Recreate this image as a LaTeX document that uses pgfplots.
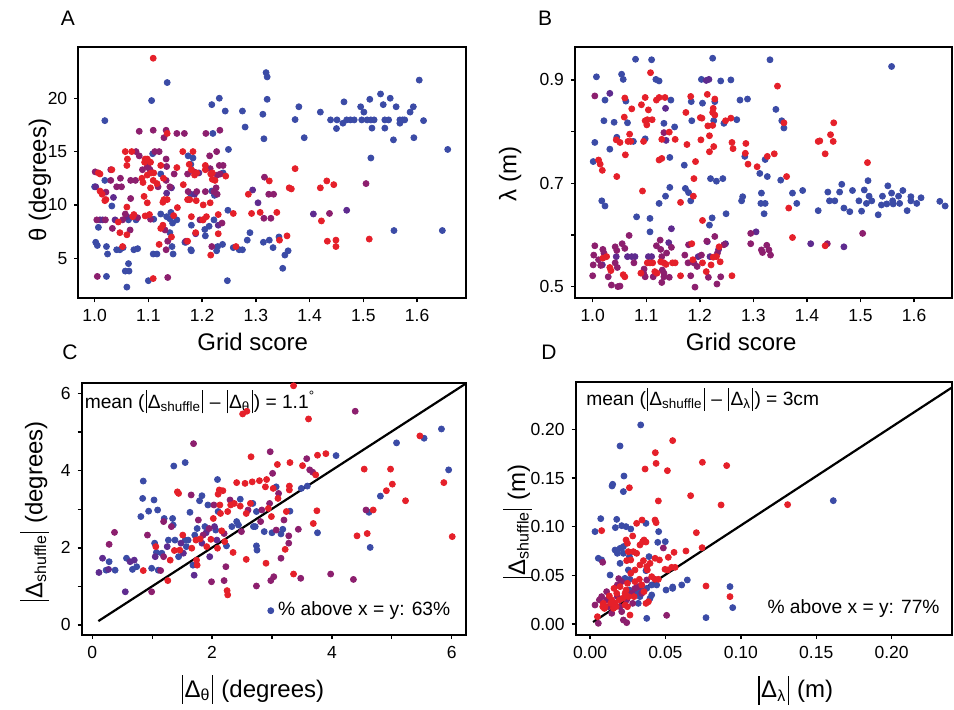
\documentclass[border=0pt]{standalone}
\usepackage{pgfplots}
\pgfplotsset{compat=1.18}
\usepackage{fontspec}
\setmainfont{Liberation Sans}
\definecolor{cB}{HTML}{3B4BA6}
\definecolor{cV}{HTML}{5E2B8F}
\definecolor{cP}{HTML}{8C1F6E}
\definecolor{cR}{HTML}{E5202A}
\newcommand{\vb}{\kern0.06em\rule[-0.28em]{0.055em}{1.2em}\kern0.06em}
\pgfplotsset{
  panel/.style={scale only axis, axis line style={line width=1pt}, tick style={black, line width=0.7pt},
    tick align=outside, xtick pos=bottom, ytick pos=left, major tick length=2pt, minor tick length=2pt,
    tick label style={font=\fontsize{8.75}{10}\selectfont},
    label style={font=\fontsize{12}{14}\selectfont}},
  pts/.style={only marks, mark=*, mark size=1.5pt, mark options={draw=none}}
}
\begin{document}
\begin{tikzpicture}
\useasboundingbox (0,0) rectangle (477pt,355pt);
% ---------------- A ----------------
\begin{axis}[panel, at={(39.15pt,205.85pt)}, anchor=south west, width=193.85pt, height=125.85pt,
  xmin=0.9696, xmax=1.691, ymin=1.25, ymax=24.84,
  xtick={1.0,1.1,1.2,1.3,1.4,1.5,1.6}, xticklabels={1.0,1.1,1.2,1.3,1.4,1.5,1.6},
  ytick={5,10,15,20}, yticklabels={5,10,15,20},
  xlabel={Grid score}, xlabel style={at={(axis description cs:0.45,-0.209)}, anchor=base},
  ylabel={θ (degrees)}, ylabel style={at={(axis description cs:-0.099,0.47)}, anchor=center, rotate=0}]
\addplot[pts, cB] coordinates {(1.135,21.47) (1.106,19.78) (1.019,17.9) (1.22,16.7) (1.218,19.4) (1.232,20.0) (1.243,18.8) (1.275,18.8) (1.28,17.3) (1.249,15.2) (1.313,18.5) (1.315,16.2) (1.319,22.4) (1.321,22.0) (1.321,19.9) (1.373,18.0) (1.38,19.2) (1.39,16.3) (1.42,18.7)
(1.439,17.97) (1.451,17.97) (1.469,17.97) (1.476,17.97) (1.483,17.97) (1.497,17.97) (1.507,17.97) (1.514,17.97) (1.52,17.97) (1.54,17.97) (1.547,17.97) (1.568,17.97) (1.573,17.97) (1.577,17.97)
(1.45,17.16) (1.462,17.66) (1.464,19.66) (1.495,19.2) (1.501,18.7) (1.512,19.9) (1.516,17.2) (1.532,20.4) (1.537,19.4) (1.54,17.2) (1.55,20.0) (1.561,19.2) (1.556,16.1) (1.568,17.66) (1.587,18.7) (1.593,19.2) (1.594,16.3) (1.604,21.7) (1.612,17.9) (1.657,15.2) (1.514,14.4) (1.557,7.6) (1.647,7.6)
(1.289,7.4) (1.284,6.7) (1.314,6.5) (1.325,6.7) (1.332,6.0) (1.354,5.3) (1.36,5.7) (1.35,4.06) (1.343,7.0)
(1.247,2.9) (1.238,6.3) (1.227,5.7) (1.229,6.1) (1.248,9.5) (1.258,6.0) (1.269,5.8) (1.275,5.8) (1.222,8.6) (1.213,8.0) (1.205,7.7) (1.206,7.1) (1.18,8.1) (1.179,5.8) (1.168,6.5) (1.239,13.0) (1.183,14.4) (1.174,14.6) (1.179,13.8) (1.179,11.0) (1.123,12.9) (1.108,14.8) (1.11,8.66) (1.123,9.15) (1.134,8.9) (1.14,8.7) (1.142,9.3) (1.153,8.6) (1.145,8.3) (1.14,7.4) (1.144,6.1) (1.146,5.4) (1.109,5.4) (1.116,5.4) (1.1,2.9) (1.17,6.5) (1.18,5.7) (1.218,11.3) (1.223,10.9)
(1.0,11.7) (1.019,12.3) (1.032,9.9) (1.007,7.9) (1.063,8.6) (1.041,5.8) (1.047,5.8) (1.053,6.0) (1.022,6.1) (1.002,6.5) (1.005,6.2) (1.024,5.4) (1.022,3.3) (1.063,4.5) (1.057,3.8) (1.064,3.8) (1.06,2.3) (1.073,5.8) (1.08,5.9) (1.077,8.6)};
\addplot[pts, cV] coordinates {(1.304,10.2) (1.294,11.4) (1.469,9.5) (1.407,9.15) (1.194,13.0) (1.186,11.0) (1.143,11.6) (1.134,11.1) (1.035,10.7) (1.002,11.7) (1.01,8.6) (1.015,8.6) (1.038,8.6) (1.06,8.9) (1.23,8.1) (1.188,7.3)};
\addplot[pts, cP] coordinates {(1.083,16.9) (1.109,17.0) (1.133,17.0) (1.129,16.3) (1.153,16.7) (1.167,16.7) (1.207,16.7) (1.233,17.0) (1.316,12.6) (1.324,11.0) (1.333,11.0) (1.315,8.75) (1.328,8.75) (1.437,9.2) (1.505,12.0) (1.218,6.1) (1.237,8.3) (1.196,8.6) (1.17,6.6) (1.206,11.25) (1.222,11.25) (1.228,11.0) (1.226,11.6) (1.228,12.8) (1.234,12.9) (1.232,13.7) (1.239,13.7) (1.227,15.0) (1.214,14.6) (1.215,13.4) (1.185,13.1) (1.173,12.9) (1.174,11.25) (1.19,11.25) (1.148,12.9) (1.14,11.7) (1.133,12.3) (1.134,13.6) (1.133,14.3) (1.118,11.7) (1.103,13.3) (1.098,13.6) (1.112,15.0) (1.12,15.0) (1.104,8.66) (1.131,7.65) (1.136,6.6) (1.133,5.8) (1.136,3.2)
(1.001,13.1) (1.021,11.2) (1.03,13.3) (1.03,12.3) (1.041,11.7) (1.048,12.5) (1.05,11.7) (1.004,8.6) (1.02,8.6) (1.033,7.8) (1.052,8.6) (1.057,9.15) (1.066,7.65) (1.005,3.3) (1.08,8.8) (1.067,10.6) (1.067,12.3) (1.076,12.3) (1.077,15.0) (1.083,14.6) (1.089,13.3) (1.1,13.5)};
\addplot[pts, cR] coordinates {(1.109,23.75) (1.135,16.7) (1.373,13.4) (1.325,12.25) (1.286,11.0) (1.308,9.3) (1.339,9.3) (1.292,9.2) (1.362,11.6) (1.366,11.5) (1.358,7.1) (1.344,6.7) (1.42,11.6) (1.432,12.25) (1.445,11.9) (1.422,8.5) (1.433,6.6) (1.449,6.7) (1.449,6.1) (1.511,6.8)
(1.216,5.3) (1.23,7.3) (1.23,9.1) (1.258,9.2) (1.263,6.1) (1.201,8.6) (1.18,8.9) (1.202,10.0) (1.215,10.2) (1.224,12.3) (1.219,12.4) (1.216,12.9) (1.219,13.0) (1.244,12.7) (1.206,13.7) (1.206,13.3) (1.19,13.0) (1.186,12.8) (1.18,13.3) (1.176,13.8) (1.183,15.0) (1.164,15.0) (1.165,11.9) (1.177,10.5) (1.189,10.4) (1.173,10.5) (1.154,9.75) (1.153,13.5) (1.135,10.5) (1.123,13.7) (1.128,12.5) (1.116,12.0) (1.127,10.25) (1.129,10.5) (1.105,13.0) (1.11,13.0) (1.098,12.8) (1.104,14.0) (1.098,14.3) (1.094,14.3) (1.104,11.6) (1.09,12.1) (1.092,10.8) (1.098,10.2) (1.102,9.1) (1.094,8.97) (1.147,9.0) (1.127,8.1) (1.123,7.8) (1.143,7.0) (1.12,6.3) (1.109,3.1) (1.173,6.6) (1.188,7.4) (1.208,8.9) (1.202,8.6)
(1.007,13.0) (1.01,12.9) (1.01,11.3) (1.014,11.0) (1.019,10.4) (1.021,10.5) (1.032,13.3) (1.044,8.4) (1.047,7.4) (1.06,7.2) (1.052,6.1) (1.073,9.1) (1.071,8.9) (1.06,9.8) (1.06,13.7) (1.061,14.3) (1.057,15.0) (1.069,15.0) (1.088,12.5) (1.093,14.0) (1.109,12.3)};
\end{axis}
% ---------------- B ----------------
\begin{axis}[panel, at={(287.5pt,205.85pt)}, anchor=south west, width=188.5pt, height=125.85pt,
  xmin=0.967, xmax=1.6708, ymin=0.4774, ymax=0.9645,
  xtick={1.0,1.1,1.2,1.3,1.4,1.5,1.6}, xticklabels={1.0,1.1,1.2,1.3,1.4,1.5,1.6},
  ytick={0.5,0.6,0.7,0.8,0.9}, yticklabels={0.5,,0.7,,0.9},
  xlabel={Grid score}, xlabel style={at={(axis description cs:0.441,-0.209)}, anchor=base},
  ylabel={λ (m)}, ylabel style={at={(axis description cs:-0.172,0.494)}, anchor=center, rotate=0}]
\addplot[pts, cB] coordinates {(1.08,0.94) (1.11,0.939) (1.224,0.942) (1.331,0.939) (1.558,0.926) (1.007,0.906) (1.054,0.911) (1.057,0.901) (1.118,0.901) (1.124,0.898) (1.203,0.901) (1.239,0.898) (1.258,0.9) (1.023,0.861) (1.062,0.859) (1.146,0.861) (1.021,0.821) (1.04,0.818) (1.065,0.817) (1.133,0.816) (1.153,0.809) (1.184,0.858) (1.205,0.855) (1.228,0.858) (1.185,0.821) (1.226,0.821) (1.245,0.816) (1.269,0.823) (1.275,0.861) (1.289,0.863) (1.171,0.735) (1.173,0.69) (1.179,0.682) (1.183,0.666) (1.22,0.709) (1.231,0.704) (1.243,0.709) (1.249,0.641) (1.223,0.633) (1.218,0.619) (1.004,0.779) (1.001,0.742) (1.017,0.666) (1.023,0.656) (1.032,0.766) (1.045,0.789) (1.076,0.781) (1.098,0.786) (1.082,0.635) (1.107,0.632) (1.107,0.606) (1.144,0.75) (1.144,0.692) (1.136,0.675) (1.124,0.661)
(1.342,0.843) (1.353,0.821) (1.357,0.807) (1.284,0.752) (1.322,0.746) (1.312,0.719) (1.326,0.713) (1.351,0.706) (1.278,0.666) (1.28,0.674) (1.315,0.681) (1.314,0.661) (1.322,0.661) (1.32,0.641) (1.373,0.681) (1.381,0.661) (1.392,0.686) (1.421,0.647) (1.439,0.683) (1.442,0.666) (1.452,0.666) (1.461,0.683) (1.465,0.698) (1.469,0.652) (1.48,0.645) (1.485,0.686) (1.497,0.666) (1.502,0.646) (1.507,0.687) (1.514,0.705) (1.516,0.675) (1.511,0.661) (1.521,0.666) (1.533,0.639) (1.541,0.675) (1.539,0.658) (1.549,0.66) (1.551,0.695) (1.558,0.681) (1.56,0.666) (1.561,0.66) (1.571,0.675) (1.573,0.661) (1.579,0.686) (1.587,0.647) (1.594,0.674) (1.594,0.666) (1.605,0.661) (1.613,0.672) (1.648,0.665) (1.658,0.656)};
\addplot[pts, cV] coordinates {(1.018,0.542) (1.044,0.558) (1.065,0.558) (1.073,0.558) (1.079,0.558) (1.104,0.558) (1.11,0.558) (1.142,0.585) (1.197,0.558) (1.214,0.587) (1.219,0.558) (1.235,0.572) (1.248,0.583) (1.212,0.899) (1.217,0.901) (1.032,0.874) (1.136,0.845) (1.137,0.783) (1.147,0.612) (1.305,0.606) (1.407,0.583) (1.469,0.577)};
\addplot[pts, cP] coordinates {(1.004,0.869) (1.133,0.798) (1.213,0.588) (1.228,0.597) (1.295,0.603) (1.295,0.583) (1.315,0.571) (1.317,0.566) (1.325,0.58) (1.329,0.571) (1.332,0.561) (1.438,0.583) (1.504,0.603)
(1.004,0.579) (1.002,0.561) (1.001,0.542) (1.0,0.521) (1.011,0.552) (1.015,0.541) (1.019,0.572) (1.021,0.565) (1.029,0.519) (1.035,0.503) (1.042,0.577) (1.045,0.57) (1.042,0.546) (1.046,0.537) (1.051,0.501) (1.047,0.5) (1.055,0.583) (1.06,0.574) (1.068,0.599) (1.077,0.546) (1.095,0.526) (1.096,0.534) (1.098,0.519) (1.113,0.519) (1.119,0.579) (1.126,0.59) (1.127,0.572) (1.129,0.558) (1.13,0.532) (1.129,0.508) (1.133,0.526) (1.133,0.519) (1.138,0.565) (1.143,0.518) (1.147,0.576) (1.172,0.561) (1.179,0.581) (1.183,0.521) (1.178,0.546) (1.189,0.546) (1.191,0.499) (1.195,0.539) (1.203,0.561) (1.216,0.518) (1.232,0.505) (1.233,0.565) (1.239,0.519) (1.245,0.581)};
\addplot[pts, cR] coordinates {(1.108,0.914) (1.06,0.865) (1.098,0.866) (1.119,0.861) (1.124,0.866) (1.135,0.866) (1.091,0.852) (1.073,0.844) (1.104,0.842) (1.059,0.828) (1.098,0.821) (1.101,0.813) (1.102,0.823) (1.111,0.823) (1.183,0.868) (1.214,0.872) (1.228,0.863) (1.225,0.845) (1.228,0.832) (1.224,0.837) (1.174,0.837) (1.204,0.826) (1.201,0.827) (1.215,0.811) (1.224,0.812) (1.248,0.821) (1.258,0.826) (1.202,0.784) (1.218,0.792) (1.226,0.771) (1.218,0.761) (1.176,0.775) (1.188,0.675) (1.192,0.742) (1.189,0.709) (1.164,0.663) (1.205,0.628) (1.011,0.745) (1.014,0.737) (1.018,0.725) (1.045,0.713) (1.044,0.784) (1.051,0.779) (1.061,0.755) (1.069,0.795) (1.071,0.781) (1.066,0.781) (1.095,0.781) (1.093,0.685) (1.124,0.745) (1.129,0.748) (1.129,0.785) (1.143,0.799) (1.154,0.785)
(1.345,0.888) (1.357,0.817) (1.26,0.779) (1.262,0.767) (1.286,0.777) (1.285,0.758) (1.29,0.737) (1.307,0.732) (1.326,0.752) (1.339,0.757) (1.362,0.713) (1.366,0.652) (1.373,0.595) (1.421,0.781) (1.424,0.782) (1.434,0.757) (1.444,0.794) (1.45,0.817) (1.449,0.781) (1.434,0.579) (1.513,0.74)
(1.019,0.555) (1.026,0.558) (1.032,0.537) (1.034,0.531) (1.057,0.523) (1.06,0.519) (1.09,0.526) (1.102,0.546) (1.107,0.546) (1.112,0.546) (1.116,0.529) (1.12,0.526) (1.127,0.548) (1.133,0.546) (1.137,0.543) (1.149,0.546) (1.154,0.546) (1.164,0.521) (1.185,0.583) (1.187,0.552) (1.205,0.546) (1.212,0.529) (1.221,0.542) (1.225,0.557) (1.231,0.558) (1.236,0.577) (1.238,0.548) (1.26,0.521)};
\end{axis}
% ---------------- C ----------------
\begin{axis}[panel, at={(40.85pt,37.5pt)}, anchor=south west, width=192.15pt, height=126.15pt,
  xmin=-0.178, xmax=6.24, ymin=-0.26, ymax=6.28,
  xtick={0,1,2,3,4,5,6}, xticklabels={0,,2,,4,,6},
  ytick={0,1,2,3,4,5,6}, yticklabels={0,,2,,4,,6},
  xlabel={\vb Δ\textsubscript{θ}\vb\ (degrees)}, xlabel style={at={(axis description cs:0.444,-0.246)}, anchor=base},
  ylabel={\vb Δ\textsubscript{shuffle}\vb\ (degrees)}, ylabel style={at={(axis description cs:-0.122,0.488)}, anchor=center, rotate=0}]
\addplot[black, line width=1.1pt] coordinates {(0.1,0.1) (6.24,6.26)};
\addplot[pts, cB] coordinates {(5.83,5.08) (5.54,4.84) (5.08,4.72) (4.07,4.39) (1.36,4.12) (1.55,4.21) (5.95,4.02) (4.81,3.34) (4.62,2.92) (4.64,2.01) (3.76,2.39) (3.59,3.6) (3.49,3.54) (3.3,2.95) (0.28,1.64) (0.23,1.42) (0.38,1.42) (0.57,1.73) (0.67,1.44) (0.74,1.51) (0.81,2.81) (0.84,3.28) (0.85,3.73) (1.03,3.24) (0.94,2.95) (1.09,2.98) (1.04,2.12) (1.07,1.88) (0.99,1.47) (1.1,1.42) (1.16,1.86) (1.2,2.76) (1.27,2.2) (1.34,2.76) (1.35,2.59) (1.38,2.2) (1.44,1.77) (1.55,2.2) (1.57,2.03) (1.6,2.2) (1.63,2.92) (1.68,1.55) (1.71,2.33) (1.75,2.5) (1.79,3.22) (1.83,3.35) (1.88,2.55) (1.93,3.11) (2.06,2.46) (2.09,3.77) (2.1,2.94) (2.24,2.05) (2.33,2.55) (2.41,2.68) (2.44,2.59) (2.47,3.26) (2.68,3.15) (2.69,2.55) (2.72,2.55) (2.74,2.94) (2.74,2.05) (2.75,1.94) (2.87,2.42) (3.0,2.39) (3.07,3.58) (3.15,2.36) (3.18,2.48) (2.98,0.37)};
\addplot[pts, cV] coordinates {(0.11,1.36) (0.17,1.73) (0.27,1.44) (0.63,1.64) (0.7,1.68) (1.05,1.77) (1.25,2.03) (1.48,2.12) (1.52,1.86) (1.83,2.12) (1.9,2.39) (1.96,1.77) (2.04,2.55) (2.08,2.2) (0.55,0.86) (1.7,1.29)};
\addplot[pts, cP] coordinates {(4.39,5.54) (3.58,4.31) (2.97,4.49) (1.69,4.7) (4.57,2.98) (4.36,1.18) (3.98,1.32) (3.63,4.02) (3.68,3.96) (3.44,2.48) (3.2,2.72) (3.15,1.73) (3.28,2.12) (3.28,2.31) (3.48,1.21) (3.03,1.25) (2.98,1.15) (2.74,1.01) (2.23,1.51) (2.2,1.15) (1.99,1.12) (0.99,0.86) (0.28,2.09) (0.37,2.4) (0.92,2.33) (1.14,1.41) (1.19,1.77) (1.19,2.68) (1.32,2.55) (1.65,3.37) (1.77,2.72) (1.85,2.33) (1.95,2.5) (2.03,3.11) (2.2,2.37) (2.3,3.24) (2.49,2.42) (2.6,2.98) (2.81,2.68) (2.83,2.98) (2.96,3.15) (3.01,3.93) (3.07,2.46) (3.11,3.41)};
\addplot[pts, cR] coordinates {(3.36,6.2) (2.51,5.47) (2.58,5.54) (3.61,5.34) (5.47,4.9) (3.9,4.44) (3.76,4.4) (3.51,4.13) (3.3,4.21) (3.09,4.16) (2.65,4.36) (4.54,4.04) (4.98,4.04) (5.01,3.65) (5.87,3.69) (4.91,3.48) (5.23,3.22) (4.69,2.98) (4.42,2.31) (4.59,2.37) (6.01,2.29) (3.73,3.89) (3.75,2.96) (3.69,2.63) (3.29,3.6) (3.29,3.5) (3.24,2.94) (3.22,1.96) (3.36,1.32) (2.9,1.6) (2.57,1.7) (2.25,0.89) (2.26,0.78) (1.26,1.15) (0.85,1.41) (1.06,2.03) (1.3,1.68) (1.37,1.93) (1.42,3.45) (1.44,3.41) (1.46,1.94) (1.51,2.33) (1.66,1.99) (1.73,2.2) (1.74,1.68) (1.75,1.55) (1.8,2.23) (1.91,2.03) (1.98,2.22) (2.02,2.76) (2.09,1.99) (2.1,3.39) (2.12,3.5) (2.13,3.11) (2.14,2.89) (2.16,2.44) (2.18,3.48) (2.21,2.16) (2.26,2.94) (2.31,3.11) (2.35,1.88) (2.37,3.15) (2.41,3.69) (2.47,3.08) (2.55,3.67) (2.57,2.89) (2.64,3.15) (2.67,3.71) (2.79,3.74) (2.89,3.58) (2.91,3.77) (2.94,3.02) (2.99,2.81) (3.02,3.54) (3.1,3.28)};
\node[anchor=north west, inner sep=0pt, font=\fontsize{9.6}{11}\selectfont] at (axis description cs:0.007,0.971) {mean (\vb Δ\textsubscript{shuffle}\vb\ -- \vb Δ\textsubscript{θ}\vb) = 1.1\textsuperscript{°}};
\node[anchor=east, inner sep=0pt, font=\fontsize{9.6}{11}\selectfont] at (axis description cs:0.96,0.096) {\% above x = y: 63\%};
\end{axis}
% ---------------- D ----------------
\begin{axis}[panel, at={(287.85pt,37.5pt)}, anchor=south west, width=188.15pt, height=126.35pt,
  xmin=-0.0095, xmax=0.24, ymin=-0.0113, ymax=0.2483,
  xtick={0,0.05,0.1,0.15,0.2}, xticklabels={0.00,0.05,0.10,0.15,0.20},
  ytick={0,0.05,0.1,0.15,0.2}, yticklabels={0.00,0.05,0.10,0.15,0.20},
  xlabel={\vb Δ\textsubscript{λ}\vb\ (m)}, xlabel style={at={(axis description cs:0.583,-0.249)}, anchor=base},
  ylabel={\vb Δ\textsubscript{shuffle}\vb\ (m)}, ylabel style={at={(axis description cs:-0.155,0.447)}, anchor=center, rotate=0}]
\addplot[black, line width=1.1pt] coordinates {(0.002,0.002) (0.24,0.243)};
\addplot[pts, cB] coordinates {(0.0336,0.2045) (0.0199,0.1829) (0.0225,0.152) (0.0146,0.1418) (0.015,0.1435) (0.0221,0.136) (0.1613,0.1267) (0.0071,0.1082) (0.0177,0.1075) (0.0033,0.0949) (0.0168,0.099) (0.021,0.101) (0.0239,0.1) (0.027,0.0976) (0.0371,0.1034) (0.0455,0.0949) (0.0499,0.0846) (0.0449,0.0839) (0.0391,0.0692) (0.0221,0.0795) (0.0199,0.0777) (0.0166,0.076) (0.0181,0.0726) (0.0221,0.0726) (0.0261,0.0692) (0.0199,0.0623) (0.0371,0.0548) (0.0055,0.0675) (0.0077,0.0658) (0.0133,0.0503) (0.0232,0.0469) (0.0254,0.0555) (0.0442,0.0401) (0.0409,0.0401) (0.0376,0.0366) (0.0409,0.0298) (0.0398,0.0264) (0.0331,0.0281) (0.032,0.0212) (0.0504,0.0349) (0.0548,0.0366) (0.0548,0.038) (0.0608,0.0401) (0.0645,0.0452) (0.0928,0.0384) (0.0946,0.0168) (0.0769,0.0065) (0.0376,0.0058) (0.0261,0.0349) (0.0309,0.0315) (0.0331,0.0366) (0.0265,0.0459)};
\addplot[pts, cP] coordinates {(0.0486,0.0781) (0.0084,0.0634) (0.019,0.0466) (0.0376,0.0452) (0.0508,0.0089) (0.0243,0.0014) (0.0055,0.0007) (0.0033,0.0195) (0.0062,0.0247) (0.011,0.0247) (0.0122,0.0178) (0.0144,0.011) (0.0181,0.0281) (0.0199,0.0178) (0.021,0.0127) (0.0221,0.0041) (0.0243,0.0247) (0.0276,0.0315) (0.0283,0.0212) (0.0298,0.0366) (0.0323,0.0384) (0.0343,0.0315) (0.011,0.0332) (0.0077,0.0281) (0.021,0.0435) (0.0181,0.0401)};
\addplot[pts, cR] coordinates {(0.0548,0.1884) (0.0433,0.176) (0.0438,0.165) (0.0365,0.1592) (0.0513,0.1575) (0.0745,0.1661) (0.0906,0.1627) (0.0261,0.14) (0.0667,0.1318) (0.0453,0.1264) (0.0869,0.1223) (0.131,0.1226) (0.0077,0.0959) (0.0309,0.1034) (0.0345,0.1068) (0.0431,0.1068) (0.0438,0.1041) (0.0705,0.0938) (0.0743,0.0784) (0.0636,0.075) (0.0557,0.0736) (0.0519,0.0685) (0.046,0.0658) (0.0431,0.0675) (0.0349,0.0846) (0.0358,0.0863) (0.0371,0.0842) (0.0331,0.0812) (0.0283,0.0904) (0.0239,0.0863) (0.0248,0.0829) (0.0254,0.0743) (0.0287,0.0743) (0.0309,0.0726) (0.0243,0.0651) (0.027,0.0658) (0.0331,0.0606) (0.0354,0.0651) (0.0376,0.0589) (0.038,0.0555) (0.0398,0.0623) (0.0298,0.0555) (0.027,0.0521) (0.0327,0.0459) (0.0409,0.0486) (0.0431,0.0459) (0.0453,0.0459) (0.0497,0.0562) (0.0515,0.0555) (0.0541,0.0582) (0.0564,0.0582) (0.0769,0.039) (0.0928,0.0281) (0.0387,0.0229) (0.0371,0.0212) (0.0049,0.0075) (0.0084,0.0178) (0.0137,0.0212) (0.0155,0.0161) (0.0166,0.0212) (0.0177,0.0315) (0.0194,0.0247) (0.0217,0.0264) (0.0232,0.0315) (0.0232,0.0195) (0.0239,0.0349) (0.0248,0.0178) (0.0254,0.0281) (0.0265,0.0092) (0.0292,0.0281) (0.0088,0.0212) (0.0128,0.0288) (0.0159,0.0366) (0.0199,0.0384) (0.0248,0.0418) (0.0298,0.0435) (0.0343,0.0401) (0.0358,0.0332) (0.0099,0.0178) (0.0095,0.016) (0.0144,0.0247) (0.0173,0.0178)};
\node[anchor=west, inner sep=0pt, font=\fontsize{9.6}{11}\selectfont] at (axis description cs:0.027,0.933) {mean (\vb Δ\textsubscript{shuffle}\vb\ -- \vb Δ\textsubscript{λ}\vb) = 3cm};
\node[anchor=east, inner sep=0pt, font=\fontsize{9.6}{11}\selectfont] at (axis description cs:0.968,0.106) {\% above x = y: 77\%};
\end{axis}
% panel letters
\node[font=\fontsize{10.5}{12}\selectfont] at (34pt,346pt) {A};
\node[font=\fontsize{10.5}{12}\selectfont] at (272.5pt,346pt) {B};
\node[font=\fontsize{10.5}{12}\selectfont] at (35pt,179pt) {C};
\node[font=\fontsize{10.5}{12}\selectfont] at (274.5pt,179pt) {D};
\end{tikzpicture}
\end{document}
